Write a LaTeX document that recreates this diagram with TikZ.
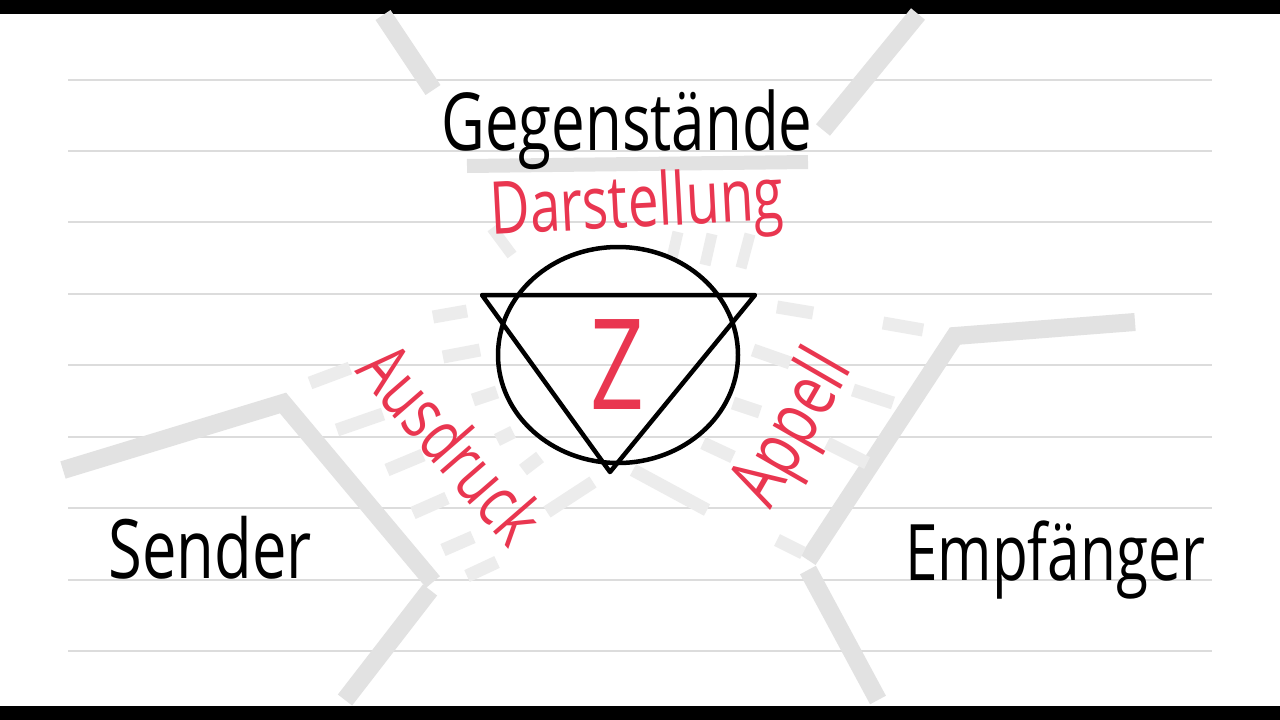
\documentclass[tikz,border=0pt]{standalone}
\usepackage{fontspec}
\setmainfont{Open Sans}
\usetikzlibrary{positioning}
\usepackage{xcolor}
\definecolor{penred}{RGB}{233,54,80}
\definecolor{ghost}{RGB}{226,226,226}
\definecolor{ghostlight}{RGB}{236,236,236}
\definecolor{rulegray}{RGB}{220,220,220}

\begin{document}
\begin{tikzpicture}[x=1pt,y=-1pt,
  ink/.style={font=\fontsize{#1}{#1}\selectfont,text=black,inner sep=0pt},
  redink/.style={font=\fontsize{#1}{#1}\selectfont,text=penred,inner sep=0pt},
  narrow/.style={xscale=0.75},
  ghoststroke/.style={draw=ghost,line width=18pt},
  hatch/.style={draw=ghostlight,line width=13pt},
  pen/.style={draw=black,line width=4.5pt,line join=round,line cap=round}]

  \useasboundingbox (0,0) rectangle (1280,720);
  \fill[white] (0,0) rectangle (1280,720);
  \fill[black] (0,0) rectangle (1280,14);
  \fill[black] (0,706) rectangle (1280,720);

  % ruled paper
  \foreach \y in {80,151,222,294,365,437,508,580,651}
    \draw[rulegray,line width=1.5pt] (68,\y) -- (1212,\y);

  % erased strokes
  \draw[ghoststroke] (383,15) -- (433,90);
  \draw[ghoststroke,line width=14pt] (467,166) -- (808,162);
  \draw[ghoststroke] (918,14) -- (823,130);
  \draw[ghoststroke] (63,470) -- (283,403) -- (433,582);
  \draw[ghoststroke] (430,590) -- (345,700);
  \draw[ghoststroke] (1135,322) -- (955,336) -- (808,560);
  \draw[ghoststroke] (808,570) -- (878,700);

  % hatching left
  \draw[hatch] (433,317) -- (467,311);
  \draw[hatch] (443,357) -- (480,350);
  \draw[hatch] (310,383) -- (350,368);
  \draw[hatch] (337,430) -- (383,414);
  \draw[hatch] (473,400) -- (497,392);
  \draw[hatch] (387,470) -- (423,455);
  \draw[hatch] (497,440) -- (513,432);
  \draw[hatch] (413,513) -- (447,498);
  \draw[hatch] (523,470) -- (540,457);
  \draw[hatch] (443,550) -- (473,537);
  \draw[hatch] (547,512) -- (593,482);
  \draw[hatch] (467,576) -- (497,562);
  % hatching right
  \draw[hatch] (777,307) -- (813,313);
  \draw[hatch] (883,323) -- (923,330);
  \draw[hatch] (753,350) -- (790,363);
  \draw[hatch] (853,390) -- (893,403);
  \draw[hatch] (733,403) -- (760,412);
  \draw[hatch] (827,443) -- (867,463);
  \draw[hatch] (703,443) -- (733,457);
  \draw[hatch] (633,470) -- (707,510);
  \draw[hatch] (777,540) -- (803,553);
  % hatching top
  \draw[hatch,line width=11pt] (492,228) -- (512,255);
  \draw[hatch,line width=11pt] (678,232) -- (672,258);
  \draw[hatch,line width=11pt] (712,234) -- (705,265);
  \draw[hatch,line width=11pt] (750,234) -- (741,268);

  % sign: circle and triangle
  \coordinate (TrL) at (482,295);
  \coordinate (TrR) at (755,295);
  \coordinate (TrB) at (610,472);
  \draw[pen] (618,355) ellipse [x radius=120, y radius=108];
  \draw[pen] (TrL) -- (TrR) -- (TrB) -- cycle;

  \node[redink=126,narrow] (Z) at (617,365) {Z};

  \node[ink=80,anchor=base,narrow] (Ge) at (627,150) {Gegenstände};
  \node[redink=73,anchor=base,rotate=3,narrow] (Da) at (638,227) {Darstellung};
  \node[redink=72,rotate=-49,narrow] (Au) at (452,443) {Ausdruck};
  \node[redink=75,rotate=60,narrow] (Ap) at (795,430) {Appell};

  \node[ink=82,anchor=base,narrow] (Se) at (210,578) {Sender};
  \node[ink=78,anchor=base,narrow] (Em) at (1055,580) {Empfänger};

\end{tikzpicture}
\end{document}
